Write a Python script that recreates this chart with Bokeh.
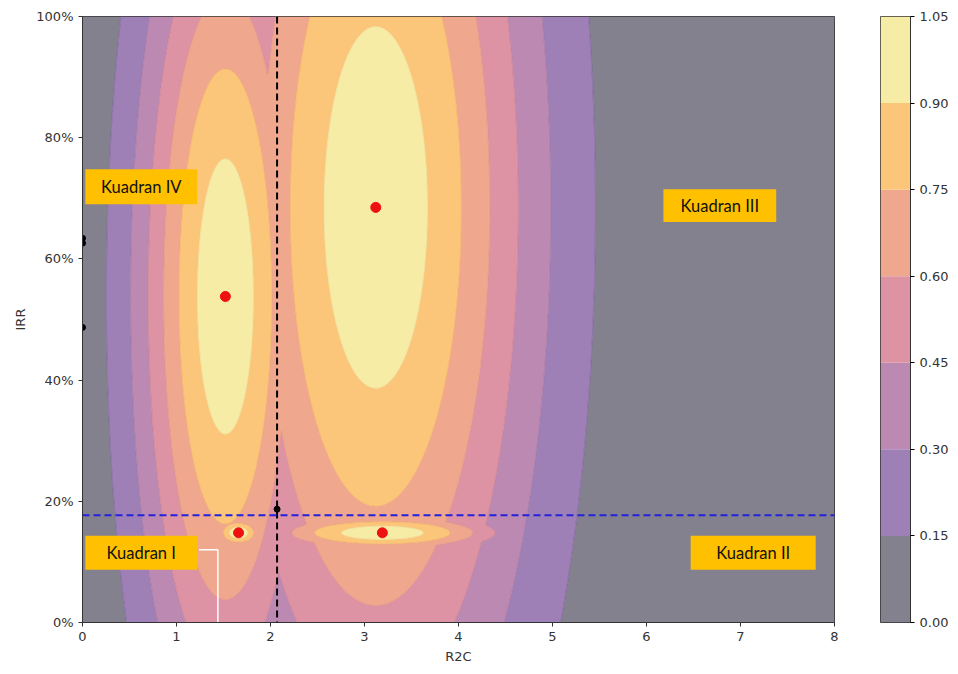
import numpy as np
from bokeh.plotting import figure
from bokeh.layouts import row
from bokeh.models import FixedTicker, PrintfTickFormatter, NumeralTickFormatter, Range1d, Span
from bokeh.core.properties import value
from bokeh.embed import file_html
from bokeh.resources import INLINE

# ---------------- data ----------------
levels = [0.0, 0.15, 0.30, 0.45, 0.60, 0.75, 0.90, 1.05]
band_colors = ["#84818f", "#9e80b6", "#bc89b3", "#dd93a3", "#efa88e", "#fcc67a", "#f6eca6"]
line_colors = ["#6d6a7a", "#7a5c9c", "#a0709e", "#c87c92", "#e2907c", "#f2ad62", "#ecd890", "#ecd890"]

# peaks of the surface (centre, spread and height)
peak_r2c = [1.52, 3.12, 1.66, 3.19]
peak_irr = [53.8, 68.5, 14.8, 14.8]
spread_r2c = [0.65, 1.20, 0.21, 0.95]
spread_irr = [49.5, 65.0, 2.0, 2.4]
peak_height = [1.0, 1.0, 1.0, 1.0]

# other projects (black points)
other_r2c = [0.0, 0.0, 0.0, 2.07]
other_irr = [62.6, 63.4, 48.7, 18.7]

r2c_cutoff = 2.07
irr_cutoff = 17.7

guide_r2c = [1.24, 1.44, 1.44]
guide_irr = [12.0, 12.0, 0.0]

x_ticks = [0, 1, 2, 3, 4, 5, 6, 7, 8]
y_ticks = [0, 20, 40, 60, 80, 100]

quadrant_names = ["Kuadran IV", "Kuadran III", "Kuadran I", "Kuadran II"]
quadrant_left = [0.03, 6.18, 0.03, 6.47]
quadrant_right = [1.22, 7.38, 1.22, 7.80]
quadrant_top = [74.8, 71.5, 14.3, 14.3]
quadrant_bottom = [69.0, 66.1, 8.7, 8.7]

# ---------------- surface ----------------
gx = np.linspace(0, 8, 481)
gy = np.linspace(0, 100, 501)
X, Y = np.meshgrid(gx, gy)
Z = np.zeros_like(X)
for cx, cy, sx, sy, a in zip(peak_r2c, peak_irr, spread_r2c, spread_irr, peak_height):
    Z = np.maximum(Z, a * np.exp(-((X - cx) ** 2 / (2 * sx ** 2) + (Y - cy) ** 2 / (2 * sy ** 2))))

FONT = "DejaVu Sans"

p = figure(width=838, height=666, x_range=Range1d(0, 8), y_range=Range1d(0, 100),
           output_backend="svg", toolbar_location=None,
           min_border_left=82, min_border_right=4, min_border_top=16, min_border_bottom=40)
p.background_fill_color = "white"
p.border_fill_color = "white"
p.grid.visible = False
p.outline_line_color = "#333333"

p.contour(gx, gy, Z, levels, fill_color=band_colors, line_color=line_colors,
          line_width=1, line_alpha=0.7)

p.add_layout(Span(location=r2c_cutoff, dimension="height", line_color="black",
                  line_dash="7 4", line_width=2))
p.add_layout(Span(location=irr_cutoff, dimension="width", line_color="#2222dd",
                  line_dash="7 4", line_width=2))

p.line(guide_r2c, guide_irr, line_color="white", line_width=1.5)

p.scatter(other_r2c, other_irr, size=6, color="black")
p.scatter(peak_r2c, peak_irr, size=10, color="#ee1111")

xc = [(a + b) / 2 for a, b in zip(quadrant_left, quadrant_right)]
yc = [(a + b) / 2 for a, b in zip(quadrant_top, quadrant_bottom)]
p.quad(left=quadrant_left, right=quadrant_right, top=quadrant_top, bottom=quadrant_bottom,
       fill_color="#ffc000", line_color=None)
p.text(xc, yc, text=quadrant_names, text_align="center", text_baseline="middle",
       text_font=value("Lato"), text_font_size="16.5px", text_color="#111111")

for ax in (p.xaxis[0], p.yaxis[0]):
    ax.major_label_text_font = FONT
    ax.major_label_text_font_size = "13px"
    ax.major_label_text_color = "#333333"
    ax.axis_label_text_font = FONT
    ax.axis_label_text_font_size = "13px"
    ax.axis_label_text_font_style = "normal"
    ax.axis_label_text_color = "#333333"
    ax.minor_tick_line_color = None
    ax.major_tick_in = 0
    ax.major_tick_out = 4
    ax.axis_line_color = "#333333"
    ax.major_tick_line_color = "#333333"
p.xaxis.axis_label = "R2C"
p.yaxis.axis_label = "IRR"
p.xaxis.ticker = FixedTicker(ticks=x_ticks)
p.yaxis.ticker = FixedTicker(ticks=y_ticks)
p.yaxis.formatter = PrintfTickFormatter(format="%d%%")

# ---------------- colour bar ----------------
cb = figure(width=113, height=666, x_range=Range1d(0, 1), y_range=Range1d(0, 1.05),
            output_backend="svg", toolbar_location=None, y_axis_location="right",
            min_border_left=42, min_border_right=36, min_border_top=16, min_border_bottom=40)
cb.grid.visible = False
cb.xaxis.visible = False
cb.outline_line_color = "#333333"
cb.quad(left=0, right=1, bottom=levels[:-1], top=levels[1:], fill_color=band_colors, line_color=None)
yax = cb.yaxis[0]
yax.ticker = FixedTicker(ticks=levels)
yax.formatter = NumeralTickFormatter(format="0.00")
yax.major_label_text_font = FONT
yax.major_label_text_font_size = "13px"
yax.major_label_text_color = "#333333"
yax.minor_tick_line_color = None
yax.major_tick_in = 0
yax.major_tick_out = 4
yax.axis_line_color = "#333333"

layout = row(p, cb)
open("out.html", "w").write(file_html(layout, INLINE))
